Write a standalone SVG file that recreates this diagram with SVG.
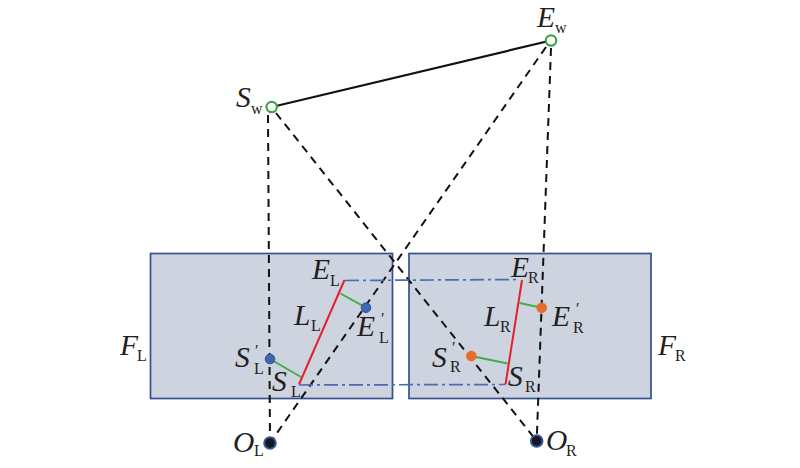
<svg xmlns="http://www.w3.org/2000/svg" width="800" height="468" viewBox="0 0 800 468">
<style>
text{font-family:"Liberation Serif","Times New Roman",serif;fill:#231f20}
.m{font-style:italic;font-size:29.500px}
.s{font-size:16px}
.p{font-size:16px;font-style:italic}
.frame{fill:#ced3e0;stroke:#34508f;stroke-width:1.7}
.dash{fill:none;stroke:#111;stroke-width:2;stroke-dasharray:8 6}
.dd{fill:none;stroke:#4a6cb3;stroke-width:1.7;stroke-dasharray:14 4 3 4}
.red{stroke:#e3202c;stroke-width:2;fill:none}
.grn{stroke:#3fae49;stroke-width:2;fill:none}
.w{fill:#fff;stroke:#3fa34d;stroke-width:2.200}
.b{fill:#3f65b5;stroke:#34508f;stroke-width:1}
.o{fill:#e96b2c}
.c{fill:#16161c;stroke:#34589f;stroke-width:2}
</style>
<g id="frame-left"><rect class="frame" x="150.500" y="253.500" width="242" height="145"/><text class="m" x="120" y="355">F</text><text class="s" x="137" y="361">L</text></g>
<g id="frame-right"><rect class="frame" x="409" y="253.500" width="242" height="145"/><text class="m" x="658" y="355">F</text><text class="s" x="675" y="361">R</text></g>
<g id="connectors">
<path d="M271.700 107L551 40.500" fill="none" stroke="#111" stroke-width="2.200"/>
<path class="dash" d="M268 115L270 443"/>
<path class="dash" d="M276 113L536.700 441"/>
<path class="dash" d="M546 47L270 443"/>
<path class="dash" d="M551 48L536.700 441"/>
<path class="dd" d="M345 280.500L520 279.500"/>
<path class="dd" d="M299 385L505 384.500"/>
<path class="red" d="M344.500 280L299 384.500"/>
<path class="red" d="M522 280L505.500 384.500"/>
<path class="grn" d="M340.500 293.500L366 307.700"/>
<path class="grn" d="M270 359L301 377"/>
<path class="grn" d="M519.500 303L541.700 307.700"/>
<path class="grn" d="M471.300 356L507.500 363.500"/>
</g>
<g id="Sw"><circle class="w" cx="271.700" cy="107" r="5.200"/><text class="m" x="236" y="107">S</text><text class="s" x="251" y="114">w</text></g>
<g id="Ew"><circle class="w" cx="551" cy="40.500" r="5.200"/><text class="m" x="537" y="27">E</text><text class="s" x="555" y="33">w</text></g>
<g id="SpL"><circle class="b" cx="270" cy="359" r="4.800"/><text class="m" x="235" y="367">S</text><text class="p" x="254" y="356">′</text><text class="s" x="254" y="374">L</text></g>
<g id="SL"><text class="m" x="272" y="391">S</text><text class="s" x="291" y="397">L</text></g>
<g id="EL"><text class="m" x="312" y="279">E</text><text class="s" x="330" y="286">L</text></g>
<g id="EpL"><circle class="b" cx="366" cy="307.700" r="4.800"/><text class="m" x="357" y="336">E</text><text class="p" x="380" y="324">′</text><text class="s" x="379" y="343">L</text></g>
<g id="LL"><text class="m" x="294" y="325">L</text><text class="s" x="311" y="331">L</text></g>
<g id="OL"><circle class="c" cx="270" cy="443" r="5.800"/><text class="m" x="233" y="452">O</text><text class="s" x="254" y="456">L</text></g>
<g id="ER"><text class="m" x="511" y="277">E</text><text class="s" x="528" y="283">R</text></g>
<g id="EpR"><circle class="o" cx="541.700" cy="307.700" r="5.300"/><text class="m" x="552" y="326">E</text><text class="p" x="575" y="314">′</text><text class="s" x="573" y="333">R</text></g>
<g id="LR"><text class="m" x="484" y="326">L</text><text class="s" x="500" y="332">R</text></g>
<g id="SpR"><circle class="o" cx="471.300" cy="356" r="5.300"/><text class="m" x="432" y="367">S</text><text class="p" x="451" y="353">′</text><text class="s" x="450" y="372">R</text></g>
<g id="SR"><text class="m" x="508" y="386">S</text><text class="s" x="525" y="392">R</text></g>
<g id="OR"><circle class="c" cx="536.700" cy="441" r="5.800"/><text class="m" x="546" y="450">O</text><text class="s" x="566" y="456">R</text></g>
</svg>
